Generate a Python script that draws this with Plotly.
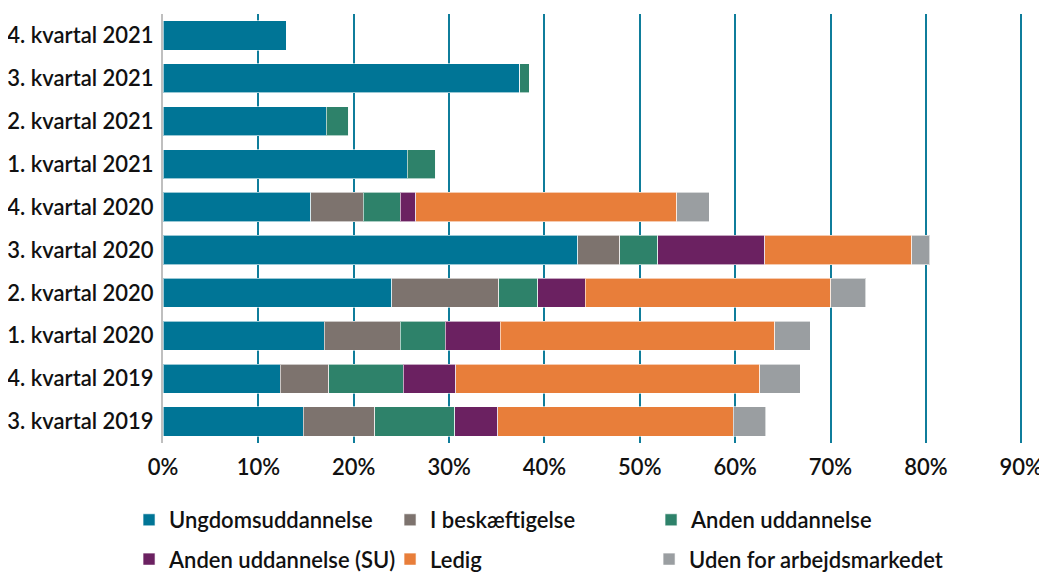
import plotly.graph_objects as go

categories = ["3. kvartal 2019", "4. kvartal 2019", "1. kvartal 2020", "2. kvartal 2020",
              "3. kvartal 2020", "4. kvartal 2020", "1. kvartal 2021", "2. kvartal 2021",
              "3. kvartal 2021", "4. kvartal 2021"]

ungdom = [14.7, 12.3, 16.9, 24.0, 43.5, 15.5, 25.6, 17.1, 37.4, 13.0]
beskaeft = [7.5, 5.1, 8.0, 11.2, 4.4, 5.5, 0, 0, 0, 0]
anden = [8.4, 7.8, 4.7, 4.1, 4.0, 3.9, 3.0, 2.4, 1.0, 0]
anden_su = [4.5, 5.5, 5.75, 5.0, 11.2, 1.6, 0, 0, 0, 0]
ledig = [24.7, 31.9, 28.8, 25.7, 15.4, 27.4, 0, 0, 0, 0]
uden = [3.4, 4.2, 3.7, 3.7, 1.9, 3.4, 0, 0, 0, 0]

series = [
    ("Ungdomsuddannelse", ungdom, "#007596", "legend"),
    ("I beskæftigelse", beskaeft, "#7d736e", "legend"),
    ("Anden uddannelse", anden, "#2e826a", "legend"),
    ("Anden uddannelse (SU)", anden_su, "#6b2161", "legend2"),
    ("Ledig", ledig, "#e87e3a", "legend2"),
    ("Uden for arbejdsmarkedet", uden, "#9a9ea1", "legend3"),
]

FONT = dict(family="Lato", size=22, color="#111111", weight=600)

fig = go.Figure()
for name, vals, color, lg in series:
    fig.add_trace(go.Bar(
        y=categories, x=[v / 100 for v in vals], name=name, orientation="h",
        legend=lg,
        marker=dict(color=color, line=dict(color="rgba(255,255,255,0.6)", width=1)),
    ))

legend_common = dict(orientation="h", xref="container", yref="container",
                     xanchor="left", yanchor="middle", traceorder="normal",
                     font=FONT, itemwidth=30, bgcolor="rgba(0,0,0,0)")

fig.update_layout(
    barmode="stack",
    bargap=0.32,
    width=1039, height=564,
    margin=dict(l=155, r=21, t=6, b=129, autoexpand=False),
    plot_bgcolor="white", paper_bgcolor="white",
    font=FONT,
    xaxis=dict(range=[0, 0.905], tickvals=[0, 0.1, 0.2, 0.3, 0.4, 0.5, 0.6, 0.7, 0.8, 0.9],
               tickformat=".0%", showgrid=True,
               gridcolor="#0f7d9b", gridwidth=2, zeroline=False,
               showline=False, ticklabelstandoff=9, automargin=False,
               tickfont=FONT),
    yaxis=dict(showline=True, linecolor="#bfbfbf", linewidth=2, showgrid=False,
               ticklabelstandoff=3, automargin=False,
               tickfont=FONT),
    legend=dict(x=0.1165, y=0.0922, entrywidth=216, entrywidthmode="pixels", **legend_common),
    legend2=dict(x=0.1165, y=0.0225, entrywidth=216, entrywidthmode="pixels", **legend_common),
    legend3=dict(x=0.617, y=0.0225, **legend_common),
    showlegend=True,
)

fig.write_html("out.html")
